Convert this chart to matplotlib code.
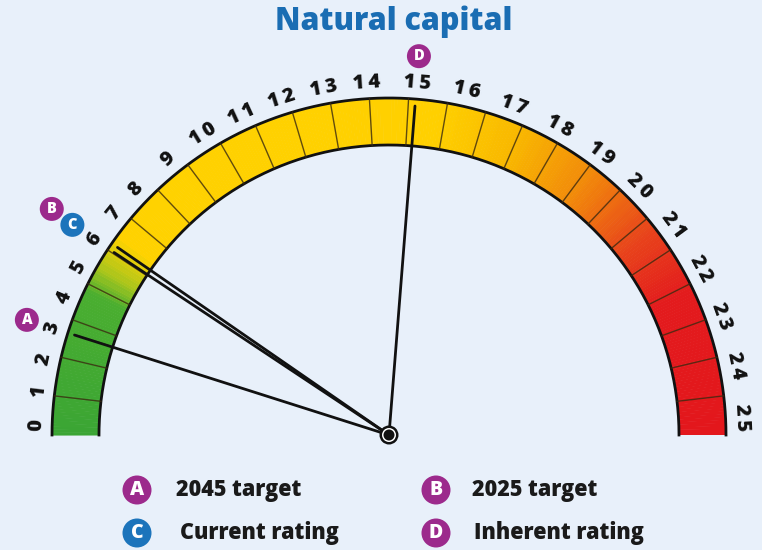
import matplotlib
matplotlib.use("Agg")
import matplotlib.pyplot as plt
import numpy as np
from matplotlib.patches import Wedge, Circle
from matplotlib.colors import LinearSegmentedColormap

# data
tick_values = list(range(0, 26))
marker_letters = ['A', 'B', 'C', 'D']
marker_values = [3.0, 6.2, 6.0, 15.0]
marker_colors = ['#9c2a8c', '#9c2a8c', '#1c74bb', '#9c2a8c']
legend_text = ['2045 target', '2025 target', 'Current rating', 'Inherent rating']
title = 'Natural capital'

BG = '#e8f0fa'
plt.rcParams['font.family'] = ['Open Sans', 'DejaVu Sans']

# gauge scale: value -> angle (deg), not linear in the original
scale_v = [0, 8, 14, 20, 25]
scale_a = [178.3, 135.8, 93.6, 44.9, 2.9]
def ang(v):
    return np.interp(v, scale_v, scale_a)

cx, cy = 389, 550 - 435
r_out, r_in = 337, 290

fig = plt.figure(figsize=(7.62, 5.5), dpi=100, facecolor=BG)
ax = fig.add_axes([0, 0, 1, 1])
ax.set_xlim(0, 762)
ax.set_ylim(0, 550)
ax.set_aspect('equal')
ax.axis('off')
ax.set_facecolor(BG)

# colour band
cmap = LinearSegmentedColormap.from_list('gauge', [
    (0.00, '#3ba534'), (0.14, '#4aae30'), (0.165, '#a8c51c'),
    (0.20, '#ffd200'), (0.55, '#ffd000'), (0.63, '#f9b800'),
    (0.71, '#f28a0a'), (0.79, '#e8441b'), (0.86, '#e31b1d'), (1.00, '#e3171c')])
n = 360
edges = np.linspace(180, 0, n + 1)
for i in range(n):
    t = (180 - (edges[i] + edges[i + 1]) / 2) / 180
    ax.add_patch(Wedge((cx, cy), r_out, edges[i + 1], edges[i] + 0.1,
                       width=r_out - r_in, facecolor=cmap(t), edgecolor='none'))

# outline arcs
th = np.radians(np.linspace(0, 180, 400))
for r in (r_out, r_in):
    ax.plot(cx + r * np.cos(th), cy + r * np.sin(th), color='#111111', lw=2)

# segment lines (27 even segments)
for k in range(1, 27):
    a = np.radians(k * 180 / 27)
    ax.plot([cx + r_in * np.cos(a), cx + r_out * np.cos(a)],
            [cy + r_in * np.sin(a), cy + r_out * np.sin(a)],
            color='#3a2a10', lw=1, alpha=0.8)

# tick labels (spread digits a little like the original)
for v in tick_values:
    a = ang(v)
    ax.text(cx + 353 * np.cos(np.radians(a)), cy + 353 * np.sin(np.radians(a)),
            '\u2009'.join(str(v)), rotation=a - 90, ha='center', va='center',
            fontsize=14.5, fontweight='heavy', color='#111111')

# pointers and badges
for let, v, col in zip(marker_letters, marker_values, marker_colors):
    a = np.radians(ang(v))
    ax.plot([cx, cx + 330 * np.cos(a)], [cy, cy + 330 * np.sin(a)],
            color='#111111', lw=2, solid_capstyle='round')
    rb, ab = 380, a
    if let == 'B':
        rb, ab = 406, a + np.radians(0.8)
    bx, by = cx + rb * np.cos(ab), cy + rb * np.sin(ab)
    ax.add_patch(Circle((bx, by), 12, facecolor=col, edgecolor='none', zorder=5))
    ax.text(bx, by, let, ha='center', va='center', color='white',
            fontsize=10.5, fontweight='heavy', zorder=6)

# hub
ax.add_patch(Circle((cx, cy), 9.5, facecolor='#111111', zorder=7))
ax.add_patch(Circle((cx, cy), 7, facecolor='white', zorder=7))
ax.add_patch(Circle((cx, cy), 5.5, facecolor='#111111', zorder=7))

ax.text(394, 550 - 22, title, ha='center', va='center', fontsize=22,
        fontweight='heavy', color='#1a6db3')

# legend
leg_pos = [(137, 490), (436, 490), (137, 533), (436, 533)]
txt_dx = [39, 36, 43, 38]
for (lx, ly), let, col, txt, dx in zip(leg_pos, marker_letters, marker_colors, legend_text, txt_dx):
    ax.add_patch(Circle((lx, 550 - ly), 14.5, facecolor=col, edgecolor='none'))
    ax.text(lx, 550 - ly, let, ha='center', va='center', color='white',
            fontsize=14, fontweight='heavy')
    ax.text(lx + dx, 550 - ly, txt, ha='left', va='center', fontsize=15.5,
            fontweight='heavy', color='#1a1a1a')

fig.savefig('out.png', dpi=100, facecolor=BG)
